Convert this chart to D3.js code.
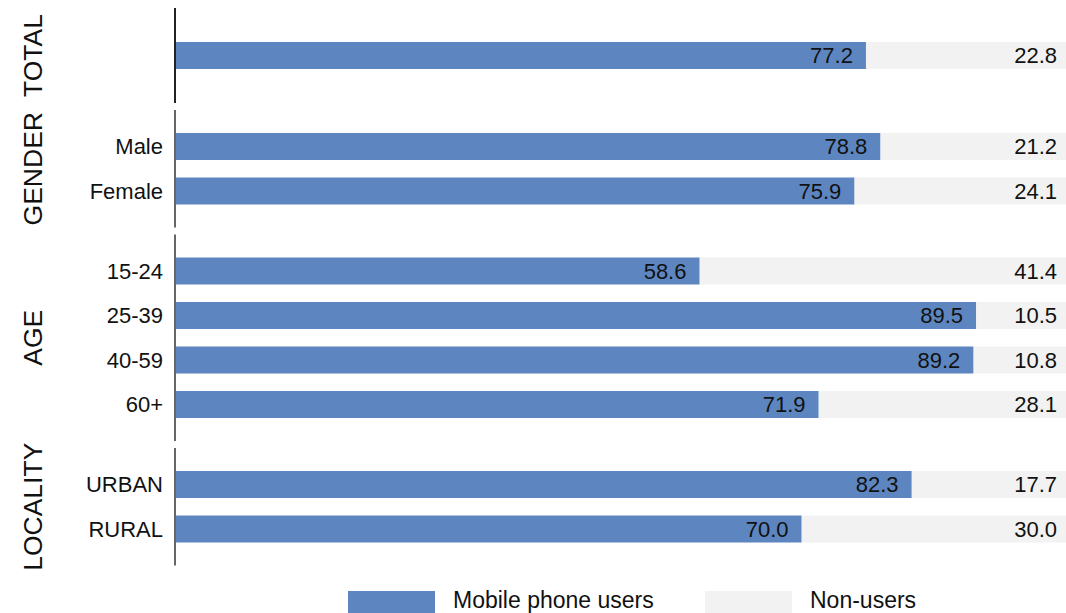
<!DOCTYPE html>
<html>
<head>
<meta charset="utf-8">
<script src="https://cdn.jsdelivr.net/npm/d3@7"></script>
<style>
  body { margin: 0; background: #fff; }
  svg { display: block; font-family: "Liberation Sans", Arial, sans-serif; }
</style>
</head>
<body>
<svg id="chart"></svg>
<script>
// groups, row labels and values
const groupNames = ["TOTAL", "GENDER", "AGE", "LOCALITY"];
const rowLabels = [[""], ["Male", "Female"], ["15-24", "25-39", "40-59", "60+"], ["URBAN", "RURAL"]];
const users = [[77.2], [78.8, 75.9], [58.6, 89.5, 89.2, 71.9], [82.3, 70.0]];
const nonUsers = [[22.8], [21.2, 24.1], [41.4, 10.5, 10.8, 28.1], [17.7, 30.0]];
const seriesNames = ["Mobile phone users", "Non-users"];

const width = 1066, height = 613;
const blue = "#5d86c0", grey = "#f2f2f2";
const step = 44.5, pad = 36.5, minBlock = 95, blockGap = 7, startY = 8;

let svg = d3.select("#chart").attr("width", width).attr("height", height);

let x = d3.scaleLinear().domain([0, 100]).range([175, 1070]);

// work out where each group block sits
let blocks = [];
let yPos = startY;
groupNames.forEach(function(g, gi) {
    let n = rowLabels[gi].length;
    let h = Math.max((n - 1) * step + 2 * pad, minBlock);
    let first = yPos + h / 2 - (n - 1) * step / 2;
    let rows = rowLabels[gi].map(function(lab, i) {
        return {label: lab, user: users[gi][i], non: nonUsers[gi][i], y: first + i * step};
    });
    blocks.push({name: g, y0: yPos, y1: yPos + h, rows: rows});
    yPos += h + blockGap;
});

let barH = 27;

let grp = svg.selectAll(".grp")
    .data(blocks)
    .enter().append("g")
    .attr("class", "grp");

// separator line on the left of each block
grp.append("line")
    .attr("x1", x(0)).attr("x2", x(0))
    .attr("y1", d => d.y0).attr("y2", d => d.y1)
    .attr("stroke", (d, i) => i == 0 ? "#222" : "#666")
    .attr("stroke-width", 2);

// group label, rotated
grp.append("text")
    .attr("transform", d => "translate(" + 42 + "," + (d.y0 + d.y1) / 2 + ") rotate(-90)")
    .attr("text-anchor", "middle")
    .attr("font-size", 26.5)
    .attr("fill", "#111")
    .text(d => d.name);

let row = grp.selectAll(".row")
    .data(d => d.rows)
    .enter().append("g")
    .attr("class", "row");

row.append("rect")
    .attr("x", d => x(d.user))
    .attr("y", d => d.y - barH / 2)
    .attr("width", d => x(d.user + d.non) - x(d.user))
    .attr("height", barH)
    .attr("fill", grey);

row.append("rect")
    .attr("x", x(0) + 1)
    .attr("y", d => d.y - barH / 2)
    .attr("width", d => x(d.user) - x(0) - 1)
    .attr("height", barH)
    .attr("fill", blue);

row.append("text")
    .attr("x", d => x(d.user) - 13)
    .attr("y", d => d.y)
    .attr("dy", "0.36em")
    .attr("text-anchor", "end")
    .attr("font-size", 22)
    .attr("fill", "#111")
    .text(d => d.user.toFixed(1));

row.append("text")
    .attr("x", x(100) - 13)
    .attr("y", d => d.y)
    .attr("dy", "0.36em")
    .attr("text-anchor", "end")
    .attr("font-size", 22)
    .attr("fill", "#111")
    .text(d => d.non.toFixed(1));

row.append("text")
    .attr("x", x(0) - 12)
    .attr("y", d => d.y)
    .attr("dy", "0.36em")
    .attr("text-anchor", "end")
    .attr("font-size", 22)
    .attr("fill", "#111")
    .text(d => d.label);

// legend
let legend = svg.append("g").attr("transform", "translate(348,591)");
let legX = [0, 357];
let leg = legend.selectAll(".leg")
    .data(seriesNames)
    .enter().append("g")
    .attr("transform", (d, i) => "translate(" + legX[i] + ",0)");
leg.append("rect")
    .attr("width", 87).attr("height", 22)
    .attr("fill", (d, i) => i == 0 ? blue : grey);
leg.append("text")
    .attr("x", 105)
    .attr("y", 9)
    .attr("dy", "0.36em")
    .attr("font-size", 23)
    .attr("fill", "#111")
    .text(d => d);
</script>
</body>
</html>
